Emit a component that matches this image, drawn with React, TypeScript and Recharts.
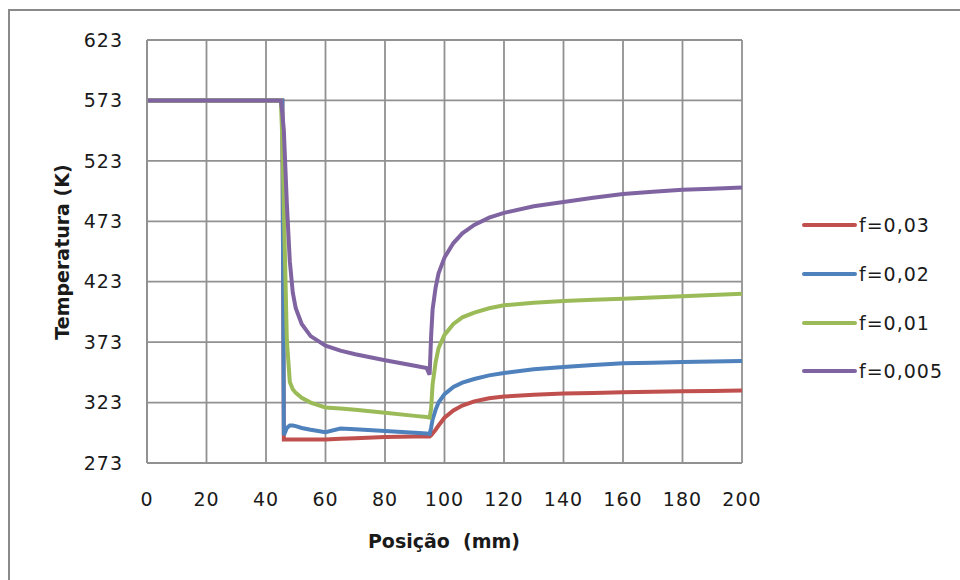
import { CartesianGrid, Legend, Line, LineChart, XAxis, YAxis } from "recharts"

// Position along the tube (mm)
const positions = [0, 45, 45.5, 46, 47, 48, 49, 50, 52, 55, 60, 65, 70, 80, 90, 94, 95, 95.5, 96, 97, 98, 100, 103, 106, 110, 115, 120, 130, 140, 150, 160, 170, 180, 190, 200]

// Temperature (K) for each friction factor
const tempF003 = [573, 573, 573, 292.5, 292.5, 292.5, 292.5, 292.5, 292.5, 292.5, 292.5, 293, 293.5, 294.5, 295, 295, 295, 296, 297.5, 300.5, 304, 310.5, 316.5, 320.5, 324, 326.5, 328, 329.5, 330.5, 331, 331.5, 332, 332.3, 332.6, 333]
const tempF002 = [573, 573, 573, 296, 302, 304, 304, 303.5, 302, 300.5, 298.5, 301.5, 301, 299.5, 298, 297.5, 297, 302, 309, 317, 323, 330, 336, 339.5, 342.5, 345.5, 347.5, 350.5, 352.5, 354, 355.5, 356, 356.5, 357, 357.5]
const tempF001 = [573, 573, 540, 485, 375, 340, 334, 331, 327, 323, 319, 318, 317, 314.5, 312, 311, 310.5, 318, 338, 356, 368, 379, 388, 393.5, 397.5, 401, 403.5, 405.5, 407, 408, 409, 410, 411, 412, 413]
const tempF0005 = [573, 573, 562, 548, 488, 440, 414, 401, 388, 378, 370, 366, 363, 358, 353.5, 351.5, 346, 378, 400, 418, 430, 443, 455, 463, 470, 476, 480, 485.5, 489, 492.5, 495.5, 497.5, 499, 500, 501]

const xTicks = [0, 20, 40, 60, 80, 100, 120, 140, 160, 180, 200]
const yTicks = [273, 323, 373, 423, 473, 523, 573, 623]

const series = [
  { key: "f003", name: "f=0,03", color: "#C0504D", values: tempF003 },
  { key: "f002", name: "f=0,02", color: "#4F81BD", values: tempF002 },
  { key: "f001", name: "f=0,01", color: "#9BBB59", values: tempF001 },
  { key: "f0005", name: "f=0,005", color: "#8064A2", values: tempF0005 },
]

const data = positions.map((pos, i) => {
  const row: { [key: string]: number } = { pos }
  series.forEach((s) => {
    row[s.key] = s.values[i]
  })
  return row
})

const FONT = "'DejaVu Sans', Verdana, sans-serif"
const GRID = "#919191"
const TEXT = "#1a1a1a"

function LegendBox({ payload }: any) {
  // keep the series order (recharts sorts the payload by name)
  const items = series
    .map((s) => (payload || []).find((p: any) => p.dataKey === s.key))
    .filter(Boolean)
  return (
    <div style={{ fontFamily: FONT, fontSize: 19, letterSpacing: 1, color: TEXT }}>
      {items.map((p: any) => (
        <div key={p.value} style={{ display: "flex", alignItems: "center", height: 48.7 }}>
          <span style={{ display: "inline-block", width: 55, height: 4, borderRadius: 2, background: p.color, marginRight: 2 }} />
          <span>{p.value}</span>
        </div>
      ))}
    </div>
  )
}

export default function App() {
  return (
    <div style={{ position: "absolute", left: 0, top: 0, width: 960, height: 580, background: "#fff", overflow: "hidden" }}>
      <div
        style={{
          position: "absolute",
          left: 8,
          top: 9,
          width: 980,
          height: 600,
          borderTop: "2px solid #8a8a8a",
          borderLeft: "2px solid #8a8a8a",
        }}
      />
      <LineChart
        width={960}
        height={580}
        data={data}
        margin={{ top: 40, right: 218, bottom: 57, left: 47 }}
        style={{ fontFamily: FONT }}
      >
        <CartesianGrid stroke={GRID} strokeWidth={1.8} />
        <XAxis
          dataKey="pos"
          type="number"
          domain={[0, 200]}
          ticks={xTicks}
          height={60}
          tickSize={0}
          tickMargin={30}
          axisLine={{ stroke: GRID, strokeWidth: 1.8 }}
          tick={{ fontSize: 19, fill: TEXT, letterSpacing: 1 }}
          label={{
            content: () => (
              <text x={444} y={548} textAnchor="middle" fontWeight="bold" fontSize={19} fill={TEXT} style={{ whiteSpace: "pre" }}>
                Posição  (mm)
              </text>
            ),
          }}
        />
        <YAxis
          type="number"
          domain={[273, 623]}
          ticks={yTicks}
          width={100}
          tickSize={0}
          tickMargin={24}
          axisLine={{ stroke: GRID, strokeWidth: 1.8 }}
          tick={{ fontSize: 19, fill: TEXT, letterSpacing: 1 }}
          label={{
            content: () => (
              <text
                x={62}
                y={252}
                transform="rotate(-90 62 252)"
                textAnchor="middle"
                dominantBaseline="central"
                fontWeight="bold"
                fontSize={19}
                fill={TEXT}
              >
                Temperatura (K)
              </text>
            ),
          }}
        />
        <Legend
          layout="vertical"
          align="center"
          verticalAlign="middle"
          wrapperStyle={{ left: 802, top: 201, width: 150 }}
          content={<LegendBox />}
        />
        {series.map((s) => (
          <Line
            key={s.key}
            dataKey={s.key}
            name={s.name}
            stroke={s.color}
            strokeWidth={4}
            dot={false}
            type="linear"
            isAnimationActive={false}
          />
        ))}
      </LineChart>
    </div>
  )
}
